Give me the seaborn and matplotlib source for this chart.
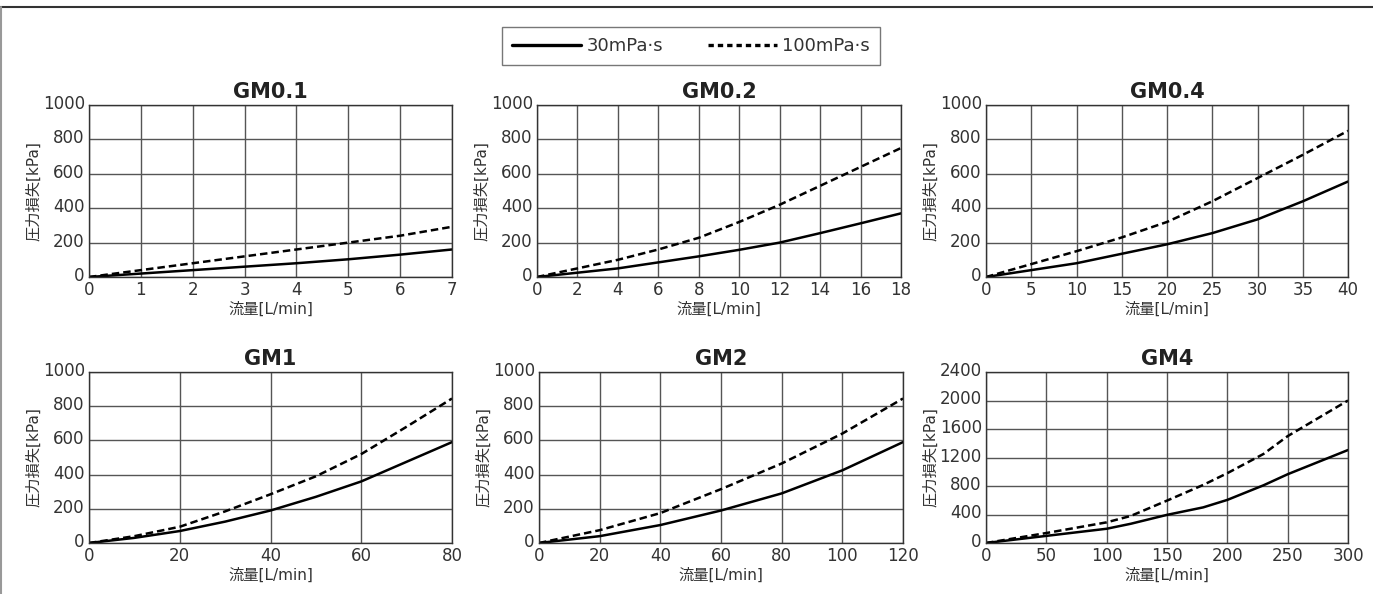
import pandas as pd
import matplotlib
matplotlib.use('Agg')
import matplotlib.pyplot as plt
import matplotlib.transforms as mtransforms
import seaborn as sns
from matplotlib.lines import Line2D

# Panel titles and axis settings
titles = ['GM0.1', 'GM0.2', 'GM0.4', 'GM1', 'GM2', 'GM4']
x_max = [7, 18, 40, 80, 120, 300]
x_step = [1, 2, 5, 20, 20, 50]
y_max = [1000, 1000, 1000, 1000, 1000, 2400]
y_step = [200, 200, 200, 200, 200, 400]

series_names = ['30mPa·s', '100mPa·s']

# Flow [L/min] and pressure loss [kPa]
gm01_x = [0, 1, 2, 3, 4, 5, 6, 7]
gm01_30 = [0, 20, 40, 60, 80, 103, 130, 160]
gm01_100 = [0, 40, 80, 120, 160, 200, 240, 292]

gm02_x = [0, 2, 4, 6, 8, 10, 12, 14, 16, 18]
gm02_30 = [0, 25, 50, 85, 120, 158, 200, 255, 312, 370]
gm02_100 = [0, 50, 100, 160, 228, 320, 420, 530, 640, 750]

gm04_x = [0, 5, 10, 15, 20, 25, 30, 35, 40]
gm04_30 = [0, 40, 80, 135, 190, 255, 335, 440, 555]
gm04_100 = [0, 75, 150, 230, 320, 440, 575, 710, 850]

gm1_x = [0, 10, 20, 30, 40, 50, 60, 70, 80]
gm1_30 = [0, 30, 70, 125, 190, 270, 360, 475, 590]
gm1_100 = [0, 40, 95, 185, 285, 390, 520, 680, 845]

gm2_x = [0, 20, 40, 60, 80, 100, 120]
gm2_30 = [0, 40, 105, 190, 290, 425, 590]
gm2_100 = [0, 75, 175, 315, 465, 640, 845]

gm4_x = [0, 50, 100, 120, 150, 180, 200, 230, 250, 300]
gm4_30 = [0, 100, 200, 270, 395, 500, 605, 810, 965, 1305]
gm4_100 = [0, 140, 290, 380, 595, 815, 980, 1250, 1500, 2000]

panels = [
    (gm01_x, gm01_30, gm01_100),
    (gm02_x, gm02_30, gm02_100),
    (gm04_x, gm04_30, gm04_100),
    (gm1_x, gm1_30, gm1_100),
    (gm2_x, gm2_30, gm2_100),
    (gm4_x, gm4_30, gm4_100),
]

sns.set_style('white')
plt.rcParams['font.family'] = ['DejaVu Sans', 'Noto Sans CJK JP']

W, H = 1373, 594
fig = plt.figure(figsize=(W / 100, H / 100), dpi=100)

# axes boxes in pixels: left, top, right, bottom
boxes = [
    (89, 105, 452, 277), (537, 105, 901, 277), (986, 105, 1348, 277),
    (89, 372, 452, 543), (539, 372, 903, 543), (986, 372, 1348, 543),
]

text_color = '#333333'
grid_color = '#555555'
shift_up = mtransforms.ScaledTranslation(0, 3 / 100, fig.dpi_scale_trans)

for i, (l, t, r, b) in enumerate(boxes):
    ax = fig.add_axes([l / W, 1 - b / H, (r - l) / W, (b - t) / H])
    xs, s30, s100 = panels[i]
    df = pd.DataFrame({
        'flow': xs + xs,
        'loss': s30 + s100,
        'visc': [series_names[0]] * len(xs) + [series_names[1]] * len(xs),
    })
    sns.lineplot(data=df, x='flow', y='loss', style='visc',
                 dashes={series_names[0]: '', series_names[1]: (3, 1.6)},
                 color='black', linewidth=1.8, ax=ax, legend=False)
    ax.set_xlim(0, x_max[i])
    ax.set_ylim(0, y_max[i])
    ax.set_xticks(range(0, x_max[i] + 1, x_step[i]))
    ax.set_yticks(range(0, y_max[i] + 1, y_step[i]))
    ax.grid(True, color=grid_color, linewidth=1.0)
    ax.set_axisbelow(True)
    for sp in ax.spines.values():
        sp.set_color('#333333')
        sp.set_linewidth(1.0)
    ax.tick_params(length=0, labelsize=12, colors=text_color)
    ax.tick_params(axis='x', pad=3)
    ax.tick_params(axis='y', pad=3)
    for lab in ax.get_yticklabels():
        lab.set_transform(lab.get_transform() + shift_up)
    ax.set_title(titles[i], fontsize=15, fontweight='bold', color='#222222', pad=5)
    ax.set_xlabel('流量[L/min]', fontsize=11, color=text_color, labelpad=2)
    ax.set_ylabel('圧力損失[kPa]', fontsize=11, color=text_color, labelpad=1)

# shared legend at the top
handles = [
    Line2D([], [], color='black', linewidth=2.4),
    Line2D([], [], color='black', linewidth=2.4, dashes=(1.6, 1.2)),
]
leg = fig.legend(handles, series_names, loc='center', ncol=2,
                 bbox_to_anchor=(691 / W, 1 - 46 / H), fontsize=13,
                 handlelength=3.8, handletextpad=0.3, columnspacing=2.5,
                 frameon=True, fancybox=False, borderpad=0.55, borderaxespad=0)
leg.get_frame().set_edgecolor('#555555')
leg.get_frame().set_linewidth(1.0)
for txt in leg.get_texts():
    txt.set_color(text_color)

# frame lines of the figure (top and left)
fig.add_artist(Line2D([0, 1], [1 - 7 / H, 1 - 7 / H], color='#333333', linewidth=1.5,
                      transform=fig.transFigure))
fig.add_artist(Line2D([1 / W, 1 / W], [0, 1 - 7 / H], color='#999999', linewidth=1.5,
                      transform=fig.transFigure))

fig.savefig('out.png', dpi=100)
